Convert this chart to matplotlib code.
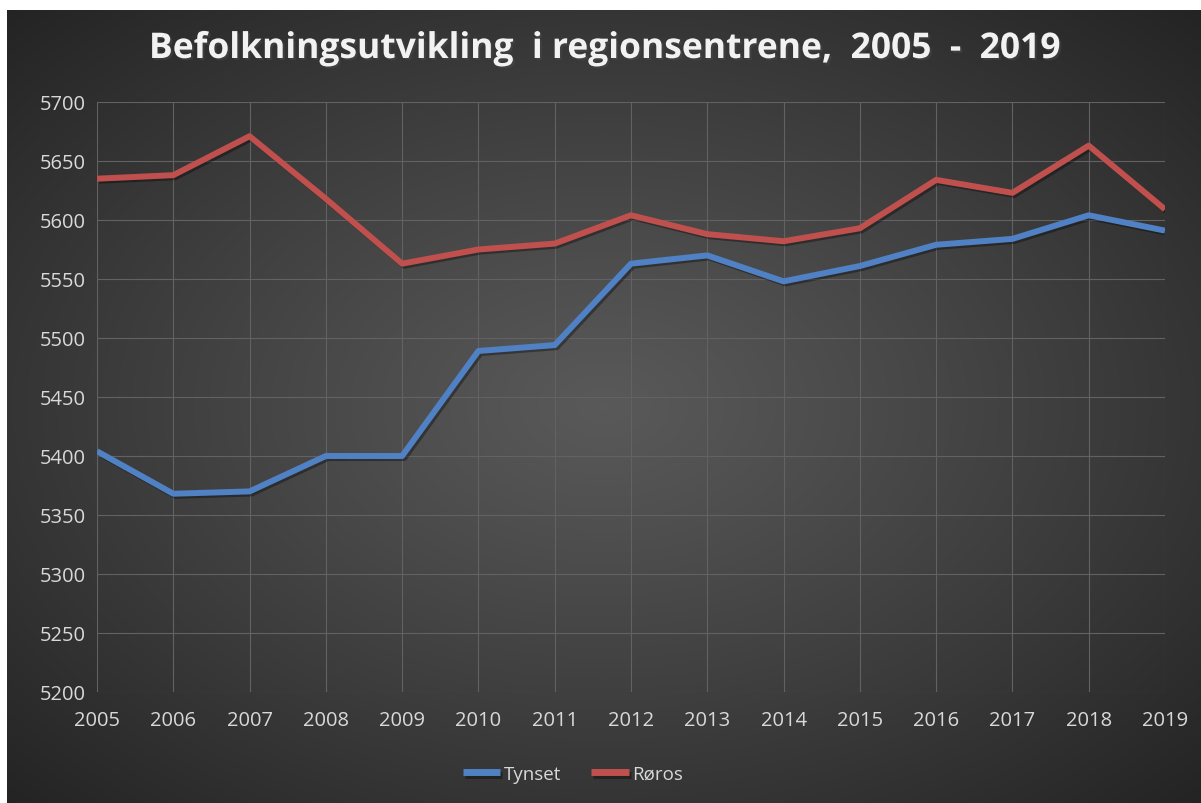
import numpy as np
import matplotlib
matplotlib.use("Agg")
import matplotlib.pyplot as plt
import matplotlib.patheffects as pe

years = list(range(2005, 2020))
tynset = [5404, 5368, 5370, 5400, 5400, 5489, 5494, 5563, 5570, 5548, 5561, 5579, 5584, 5604, 5591]
roros = [5635, 5638, 5671, 5618, 5563, 5575, 5580, 5604, 5588, 5582, 5593, 5634, 5623, 5663, 5609]
y_ticks = list(range(5200, 5701, 50))

plt.rcParams['font.family'] = ['Open Sans', 'DejaVu Sans']

W, H = 1201, 804
fig = plt.figure(figsize=(W / 100, H / 100), dpi=100)
fig.patch.set_facecolor("white")

# dark radial gradient background (Excel style)
bg = fig.add_axes([7 / W, 0, (W - 7) / W, (H - 11) / H])
gx, gy = np.meshgrid(np.linspace(-1, 1, 600), np.linspace(-1, 1, 400))
r = np.sqrt(gx ** 2 + gy ** 2) / np.sqrt(2)
shade = 0.35 - 0.21 * np.clip(r, 0, 1) ** 1.1
bg.imshow(np.dstack([shade] * 3), aspect="auto", extent=[0, 1, 0, 1])
bg.set_axis_off()

ax = fig.add_axes([97 / W, (H - 693) / H, (1165 - 97) / W, (693 - 103) / H])
ax.patch.set_alpha(0)

shadow = [pe.SimpleLineShadow(offset=(1.5, -1.5), alpha=0.35), pe.Normal()]
ax.plot(years, tynset, color="#4f81c4", lw=4.3, label="Tynset", path_effects=shadow, solid_capstyle="butt")
ax.plot(years, roros, color="#c0504d", lw=4.3, label="Røros", path_effects=shadow, solid_capstyle="butt")

ax.set_xlim(2005, 2019)
ax.set_ylim(5200, 5700)
ax.set_xticks(years)
ax.set_yticks(y_ticks)
ax.grid(True, color="#626262", lw=0.8)
ax.set_axisbelow(True)
for s in ax.spines.values():
    s.set_visible(False)
ax.tick_params(axis="both", length=0, labelsize=14.5, colors="#d9d9d9")
ax.tick_params(axis="x", pad=13)
ax.tick_params(axis="y", pad=8)

fig.text(604 / W, 1 - 50 / H, "Befolkningsutvikling  i regionsentrene,  2005  -  2019",
         ha="center", va="center", fontsize=25.5, fontweight="bold", color="#f2f2f2",
         path_effects=[pe.withSimplePatchShadow(offset=(1.5, -1.5), alpha=0.5)])

leg = fig.legend(loc="center", bbox_to_anchor=(573 / W, 1 - 775 / H), ncol=2, frameon=False,
                 fontsize=13.5, handlelength=2.0, handletextpad=0.2, columnspacing=1.6)
for t in leg.get_texts():
    t.set_color("#d9d9d9")
for h in leg.legend_handles:
    h.set_linewidth(5)

plt.savefig("out.png", dpi=100, facecolor=fig.get_facecolor())
